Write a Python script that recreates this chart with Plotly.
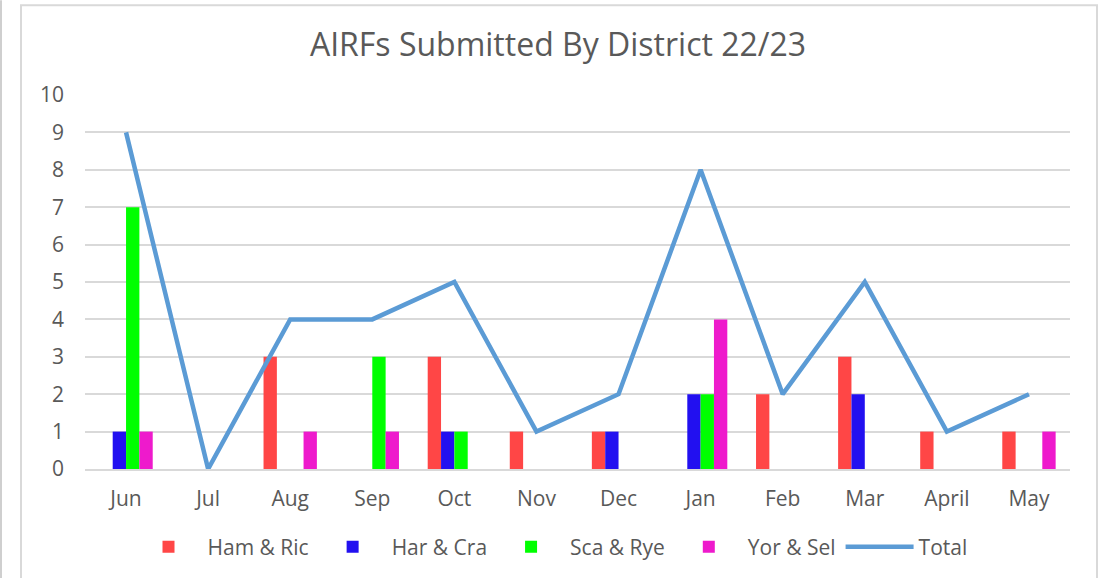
import plotly.graph_objects as go

months = ["Jun", "Jul", "Aug", "Sep", "Oct", "Nov", "Dec", "Jan", "Feb", "Mar", "April", "May"]
ham_ric = [0, 0, 3, 0, 3, 1, 1, 0, 2, 3, 1, 1]
har_cra = [1, 0, 0, 0, 1, 0, 1, 2, 0, 2, 0, 0]
sca_rye = [7, 0, 0, 3, 1, 0, 0, 2, 0, 0, 0, 0]
yor_sel = [1, 0, 1, 1, 0, 0, 0, 4, 0, 0, 0, 1]
total = [9, 0, 4, 4, 5, 1, 2, 8, 2, 5, 1, 2]

font_fam = "Open Sans, Liberation Sans, sans-serif"
grey = "#595959"

fig = go.Figure()
for name, vals, col in [("Ham & Ric", ham_ric, "#FF4646"),
                        ("Har & Cra", har_cra, "#2210F0"),
                        ("Sca & Rye", sca_rye, "#00FF00"),
                        ("Yor & Sel", yor_sel, "#EE1ACC")]:
    fig.add_trace(go.Bar(x=months, y=vals, name=name, marker=dict(color=col, line=dict(width=0))))
fig.add_trace(go.Scatter(x=months, y=total, name="Total", mode="lines",
                         line=dict(color="#5B9BD5", width=4.5)))

L, R, T, B = 85, 1070, 95, 470
W, H = 1102, 578
pw, ph = R - L, B - T

def px(x):
    return (x - L) / pw

def py(y):
    return (B - y) / ph

fig.update_layout(
    width=W, height=H,
    margin=dict(l=L, r=W - R, t=T, b=H - B),
    paper_bgcolor="white", plot_bgcolor="white",
    barmode="group", bargap=0.35, bargroupgap=0,
    title=dict(text="AIRFs Submitted By District 22/23", x=px(558), xref="paper", xanchor="center",
               y=1 - 45 / H, yanchor="middle",
               font=dict(family=font_fam, size=32, color=grey)),
    font=dict(family=font_fam, size=21, color=grey),
    legend=dict(orientation="h", x=px(551), xanchor="center", y=py(547), yanchor="middle",
                font=dict(size=21, color=grey), itemwidth=68, traceorder="normal"),
    xaxis=dict(showgrid=False, showline=True, linecolor="#D9D9D9", linewidth=1.5,
               ticks="", ticklabelstandoff=10, tickfont=dict(size=21, color=grey)),
    yaxis=dict(range=[0, 10], dtick=1, showgrid=True, gridcolor="#D9D9D9", gridwidth=1.5,
               zeroline=False, ticks="", ticklabelstandoff=20, tickfont=dict(size=21, color=grey)),
    shapes=[
        dict(type="rect", xref="paper", yref="paper", x0=px(21), x1=px(1097), y0=py(600), y1=py(5),
             line=dict(color="#D9D9D9", width=2), layer="below"),
        dict(type="line", xref="paper", yref="paper", x0=px(1), x1=px(1), y0=py(600), y1=py(0),
             line=dict(color="#BFBFBF", width=1.5)),
    ],
)

fig.write_html("out.html", config={"displayModeBar": False},
               post_script="document.body.style.margin='0px';document.body.style.overflow='hidden';")
